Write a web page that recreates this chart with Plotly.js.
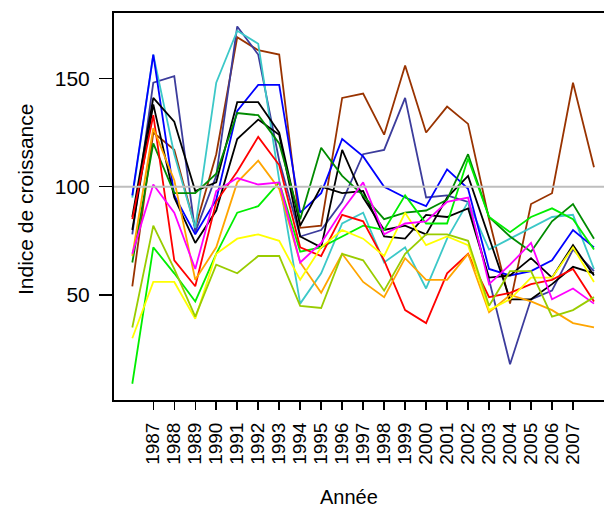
<!DOCTYPE html>
<html>
<head>
<meta charset="utf-8">
<script src="https://cdn.plot.ly/plotly-3.0.1.min.js"></script>
<style>html,body{margin:0;padding:0;background:#fff;}#chart{width:604px;height:509px;}</style>
</head>
<body>
<div id="chart"></div>
<script>
var years = [1986,1987,1988,1989,1990,1991,1992,1993,1994,1995,1996,1997,1998,1999,2000,2001,2002,2003,2004,2005,2006,2007,2008];
var tickYears = [1987,1988,1989,1990,1991,1992,1993,1994,1995,1996,1997,1998,1999,2000,2001,2002,2003,2004,2005,2006,2007];
var tickLabels = ["1987","1988","1989","1990","1991","1992","1993","1994","1995","1996","1997","1998","1999","2000","2001","2002","2003","2004","2005","2006","2007"];

var sBlue      = [96, 161, 96, 78, 94, 135, 147, 147, 88, 97, 122, 114, 100, 95, 91, 108, 99, 62, 59, 61, 66, 80, 72];
var sCyan      = [95, 161, 115, 81, 148, 172, 166, 103, 46, 60, 83, 88, 65, 72, 53, 76, 93, 71, 76, 81, 86, 87, 62];
var sNavy      = [78, 148, 151, 79, 105, 174, 161, 112, 77, 80, 93, 115, 117, 141, 95, 96, 93, 57, 18, 48, 52, 71, 61];
var sBrown     = [54, 125, 117, 81, 115, 169, 163, 161, 81, 82, 141, 143, 124, 156, 125, 137, 129, 85, 46, 92, 97, 148, 109];
var sBlackA    = [86, 141, 130, 98, 102, 139, 139, 125, 82, 100, 97, 98, 77, 76, 87, 86, 90, 58, 59, 67, 58, 73, 59];
var sBlackB    = [80, 138, 95, 74, 89, 122, 131, 124, 77, 72, 117, 95, 80, 82, 78, 95, 105, 76, 48, 48, 55, 63, 60];
var sDarkGreen = [65, 120, 97, 97, 106, 134, 133, 120, 85, 118, 105, 96, 85, 88, 89, 94, 115, 86, 77, 70, 84, 92, 76];
var sGreen     = [9, 72, 60, 47, 69, 88, 91, 102, 70, 72, 77, 82, 80, 96, 83, 83, 113, 86, 79, 86, 90, 85, 71];
var sRed       = [85, 133, 66, 54, 93, 107, 123, 110, 72, 68, 87, 84, 66, 43, 37, 60, 69, 49, 51, 55, 57, 62, 47];
var sOrange    = [68, 127, 103, 57, 72, 102, 112, 99, 65, 51, 69, 56, 49, 67, 57, 57, 69, 42, 50, 47, 43, 37, 35];
var sYellow    = [30, 56, 56, 39, 69, 76, 78, 75, 57, 72, 80, 76, 68, 88, 73, 77, 73, 43, 48, 58, 58, 72, 56];
var sMagenta   = [69, 101, 88, 62, 98, 104, 101, 102, 65, 74, 89, 102, 78, 83, 84, 93, 95, 55, 64, 74, 48, 53, 46];
var sYellowGreen = [35, 82, 62, 40, 64, 60, 68, 68, 45, 44, 69, 66, 52, 69, 78, 78, 75, 45, 61, 61, 40, 43, 49];

var seriesList = [sBrown, sNavy, sCyan, sBlue, sBlackA, sBlackB, sDarkGreen, sGreen, sRed, sOrange, sYellow, sMagenta, sYellowGreen];
var colors = ["#993300", "#3C3C9C", "#3CC8C8", "#0000FF", "#000000", "#000000", "#008B00", "#00EE00", "#FF0000", "#FFA500", "#FFFF00", "#FF00FF", "#99CC00"];

var traces = seriesList.map(function(s, i){
  return {x: years, y: s, type: 'scatter', mode: 'lines', line: {color: colors[i], width: 1.8}, showlegend: false, hoverinfo: 'skip'};
});

var F = "Liberation Sans, Arial, sans-serif";
var layout = {
  width: 604, height: 509,
  margin: {l: 114, r: 0, t: 13, b: 109, pad: 0},
  paper_bgcolor: '#fff', plot_bgcolor: '#fff',
  showlegend: false,
  xaxis: {
    range: [1985.128, 2008.477], tickmode: 'array', tickvals: tickYears, ticktext: tickLabels,
    tickangle: -90, ticks: 'outside', ticklen: 8, tickwidth: 1.5, tickcolor: '#000',
    showline: true, mirror: true, linecolor: '#000', linewidth: 2,
    showgrid: false, zeroline: false, ticklabelstandoff: 5,
    tickfont: {family: F, size: 19, color: '#000'}
  },
  yaxis: {
    range: [1.5, 180.2], tickmode: 'array', tickvals: [50, 100, 150], ticktext: ["50", "100", "150"],
    ticks: 'outside', ticklen: 13, tickwidth: 1.5, tickcolor: '#000',
    showline: true, mirror: false, linecolor: '#000', linewidth: 2,
    showgrid: false, zeroline: false, ticklabelstandoff: 5,
    tickfont: {family: F, size: 21, color: '#000'}
  },
  shapes: [{type: 'line', xref: 'paper', x0: 0, x1: 1, yref: 'y', y0: 100, y1: 100, line: {color: '#BEBEBE', width: 2}, layer: 'above'}],
  annotations: [
    {text: 'Année', xref: 'paper', yref: 'paper', x: (349-114)/490, y: (400-497)/387, showarrow: false, xanchor: 'center', yanchor: 'middle', font: {family: F, size: 20, color: '#000'}},
    {text: 'Indice de croissance', xref: 'paper', yref: 'paper', x: (25-114)/490, y: (400-200)/387, showarrow: false, textangle: -90, xanchor: 'center', yanchor: 'middle', font: {family: F, size: 21, color: '#000'}}
  ]
};
Plotly.newPlot('chart', traces, layout, {staticPlot: true, displayModeBar: false});
</script>
</body>
</html>
